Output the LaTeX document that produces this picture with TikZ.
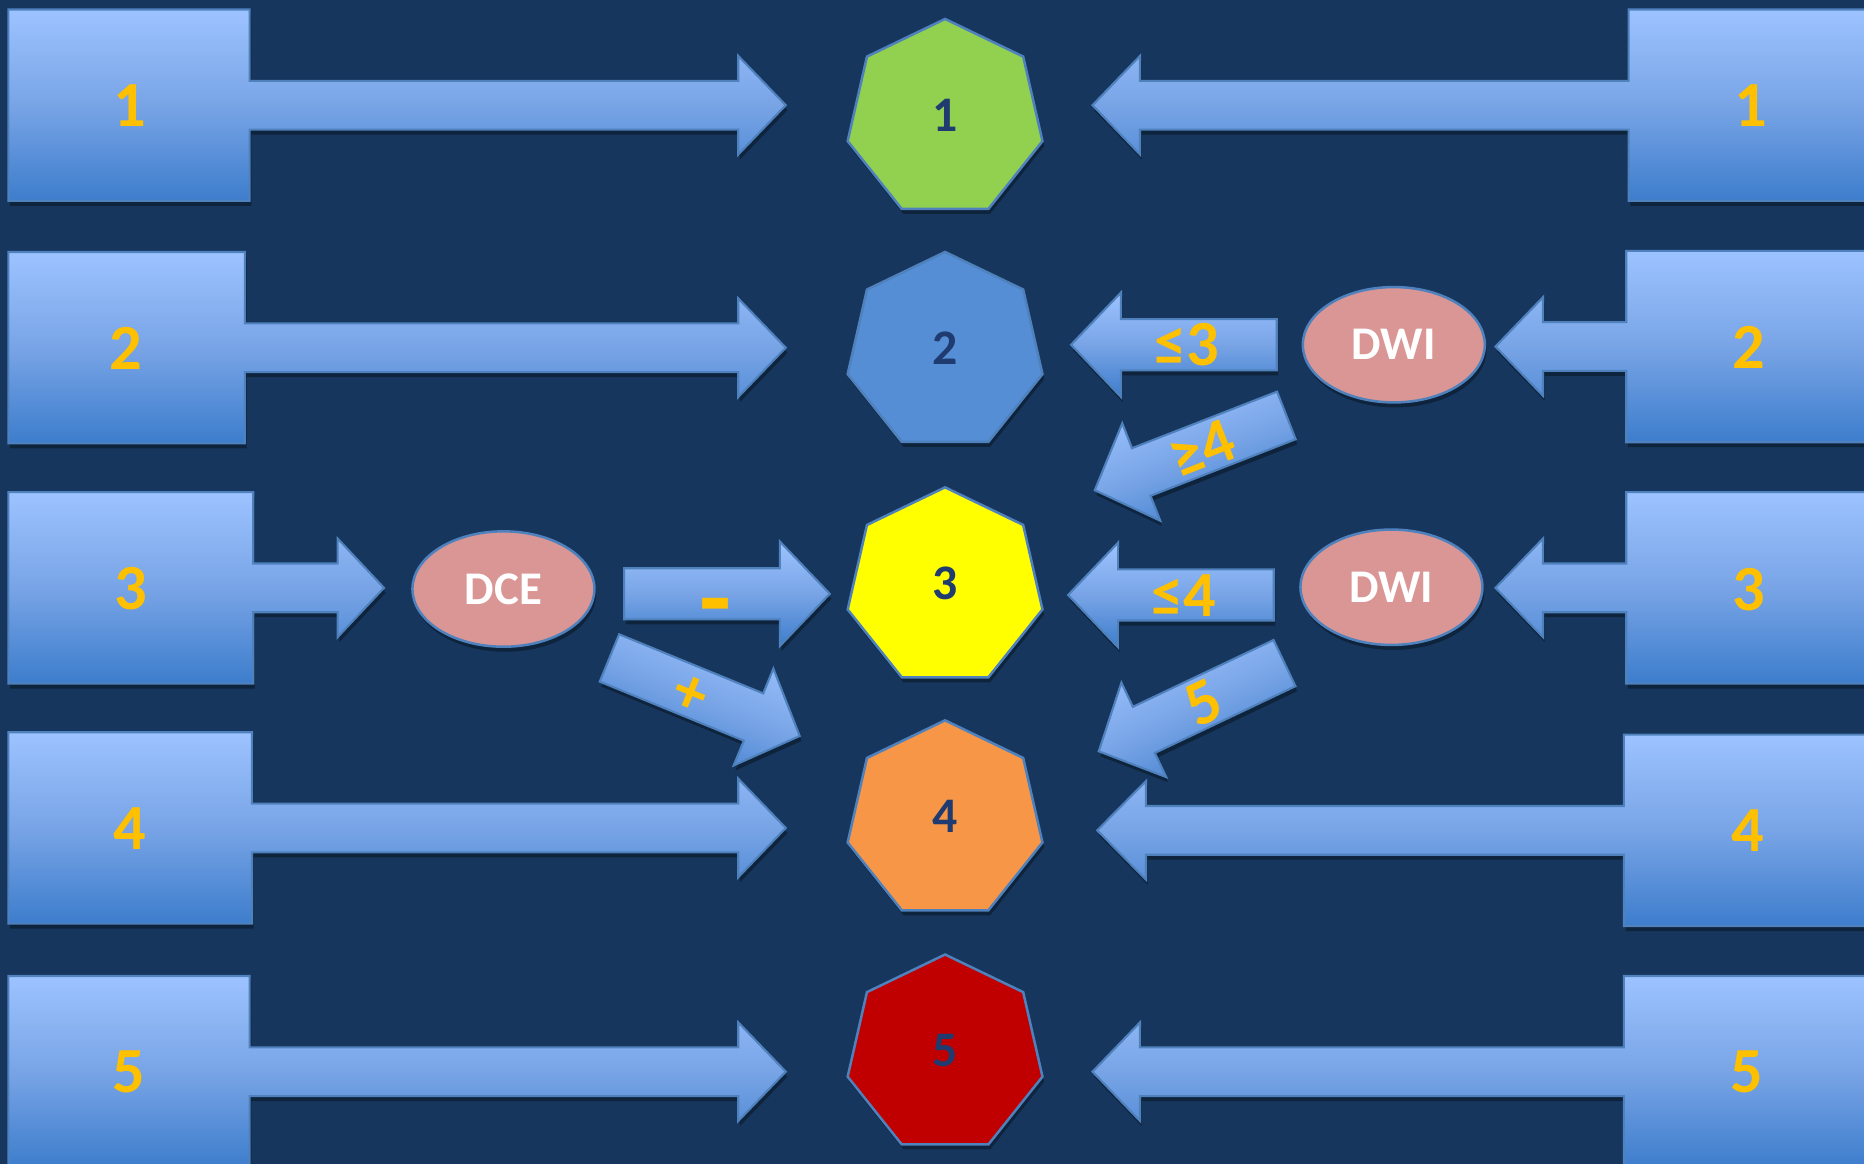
\documentclass[tikz,border=0pt]{standalone}
\usepackage{fontspec}
\setmainfont{Carlito}
\usetikzlibrary{shapes.geometric,shadows}
\definecolor{bg}{HTML}{17365D}
\definecolor{gtop}{HTML}{9DC3FF}
\definecolor{gmid}{HTML}{78A4E6}
\definecolor{gbot}{HTML}{3D7DCC}
\definecolor{bord}{HTML}{4F81BD}
\definecolor{orng}{HTML}{FFC000}
\definecolor{navy}{HTML}{1F3B70}
\definecolor{pinkfill}{HTML}{D99694}
\definecolor{hgreen}{HTML}{92D050}
\definecolor{hblue}{HTML}{558ED5}
\definecolor{hyellow}{HTML}{FFFF00}
\definecolor{horange}{HTML}{F79646}
\definecolor{hred}{HTML}{C00000}
\tikzset{
  shd/.style={drop shadow={shadow xshift=0.4pt, shadow yshift=-1.2pt, opacity=0.35, fill=black}},
  shp/.style={shd, draw=bord, line width=0.5pt, top color=gtop, bottom color=gbot, middle color=gmid},
  sar/.style={shd, draw=bord, line width=0.5pt, top color=gtop, bottom color=gbot, middle color=gmid},
  numlab/.style={text=orng, font=\fontsize{15.4}{18}\selectfont\bfseries, inner sep=0pt},
  heplab/.style={text=navy, font=\fontsize{11.9}{14}\selectfont\bfseries, inner sep=0pt},
  hep/.style={shd, regular polygon, regular polygon sides=7, minimum size=1.68cm, inner sep=0pt, draw=bord, line width=0.6pt},
  ell/.style={shd, ellipse, draw=bord, line width=0.6pt, fill=pinkfill, minimum width=1.53cm, minimum height=0.97cm, inner sep=0pt, text=white, font=\fontsize{11.2}{13}\selectfont\bfseries},
}
\newcommand\LeftCallout[4]{%
  \path[shp] (7,#2) -- (#1,#2) -- (#1,#2+60) -- (#3,#2+60) -- (#3,#2+39) -- (#4,#2+80.5) -- (#3,#2+122) -- (#3,#2+101) -- (#1,#2+101) -- (#1,#2+161) -- (7,#2+161) -- cycle;}
\newcommand\RightCallout[4]{%
  \path[shp] (#1+210,#2) -- (#1,#2) -- (#1,#2+60) -- (#3,#2+60) -- (#3,#2+39) -- (#4,#2+80.5) -- (#3,#2+122) -- (#3,#2+101) -- (#1,#2+101) -- (#1,#2+161) -- (#1+210,#2+161) -- cycle;}
\begin{document}
\begin{tikzpicture}[x=0.01cm,y=-0.01cm]
\useasboundingbox (0,0) rectangle (1568,979);
\clip (0,0) rectangle (1568,979);
\fill[bg] (0,0) rectangle (1568,979);

% left callouts
\LeftCallout{210}{8}{621}{661}
\LeftCallout{206}{212}{621}{661}
\LeftCallout{213}{414}{284}{323}
\LeftCallout{212}{616}{621}{661}
\LeftCallout{210}{821}{621}{661}
% right callouts
\RightCallout{1370}{8}{959}{919}
\RightCallout{1368}{211}{1298}{1258}
\RightCallout{1368}{414}{1298}{1258}
\RightCallout{1366}{618}{964}{923}
\RightCallout{1366}{821}{959}{919}

% small arrows
\path[sar, shift={(987.5,290)}, rotate=180] (-86.5,-21.5) -- (44.5,-21.5) -- (44.5,-44) -- (86.5,0) -- (44.5,44) -- (44.5,21.5) -- (-86.5,21.5) -- cycle;
\path[sar, shift={(985,500.5)}, rotate=180] (-86.5,-21.5) -- (44.5,-21.5) -- (44.5,-44) -- (86.5,0) -- (44.5,44) -- (44.5,21.5) -- (-86.5,21.5) -- cycle;
\path[sar, shift={(611.5,499.5)}] (-86.5,-21.5) -- (44.5,-21.5) -- (44.5,-44) -- (86.5,0) -- (44.5,44) -- (44.5,21.5) -- (-86.5,21.5) -- cycle;
\path[sar, shift={(1001.5,380.9)}, rotate=201.3, shading angle=21.3] (-86.5,-21.5) -- (44.5,-21.5) -- (44.5,-44) -- (86.5,0) -- (44.5,44) -- (44.5,21.5) -- (-86.5,21.5) -- cycle;
\path[sar, shift={(1002.4,594.9)}, rotate=205.4, shading angle=25.4] (-86.5,-21.5) -- (44.5,-21.5) -- (44.5,-44) -- (86.5,0) -- (44.5,44) -- (44.5,21.5) -- (-86.5,21.5) -- cycle;
\path[sar, shift={(592.7,586.3)}, rotate=-22.3, shading angle=-22.3] (-86.5,-21.5) -- (44.5,-21.5) -- (44.5,-44) -- (86.5,0) -- (44.5,44) -- (44.5,21.5) -- (-86.5,21.5) -- cycle;

% heptagons
\node[hep, fill=hgreen] (H1) at (795,100) {};
\node[hep, fill=hblue] (H2) at (795,296) {};
\node[hep, fill=hyellow] (H3) at (795,494) {};
\node[hep, fill=horange] (H4) at (795,690) {};
\node[hep, fill=hred] (H5) at (795,887) {};
\node[heplab] (H1t) at (795,97) {1};
\node[heplab] (H2t) at (795,293) {2};
\node[heplab] (H3t) at (795,491) {3};
\node[heplab] (H4t) at (795,687) {4};
\node[heplab] (H5t) at (795,884) {5};

% ellipses
\node[ell] (DCE) at (423.5,495.5) {DCE};
\node[ell] (DWIa) at (1172.5,290) {DWI};
\node[ell] (DWIb) at (1170.5,494) {DWI};

% box numbers
\node[numlab] (L1) at (109,89) {1};
\node[numlab] (L2) at (106,293) {2};
\node[numlab] (L3) at (110,495) {3};
\node[numlab] (L4) at (109,697) {4};
\node[numlab] (L5) at (108,902) {5};
\node[numlab] (R1) at (1473,89) {1};
\node[numlab] (R2) at (1471,292) {2};
\node[numlab] (R3) at (1471,496) {3};
\node[numlab] (R4) at (1470,699) {4};
\node[numlab] (R5) at (1469,902) {5};

% arrow labels
\node[numlab] (le3) at (998,290) {≤3};
\node[numlab] (le4) at (996,501) {≤4};
\node[numlab, rotate=21.3] (ge4) at (1011,378) {≥4};
\node[numlab, rotate=25.4] (five) at (1012,591.5) {5};
\node[numlab, rotate=-22.3] (plus) at (580.6,585) {+};
\node[numlab, font=\fontsize{25}{28}\selectfont\bfseries] (minus) at (601.6,518.5) {-};
\end{tikzpicture}
\end{document}
